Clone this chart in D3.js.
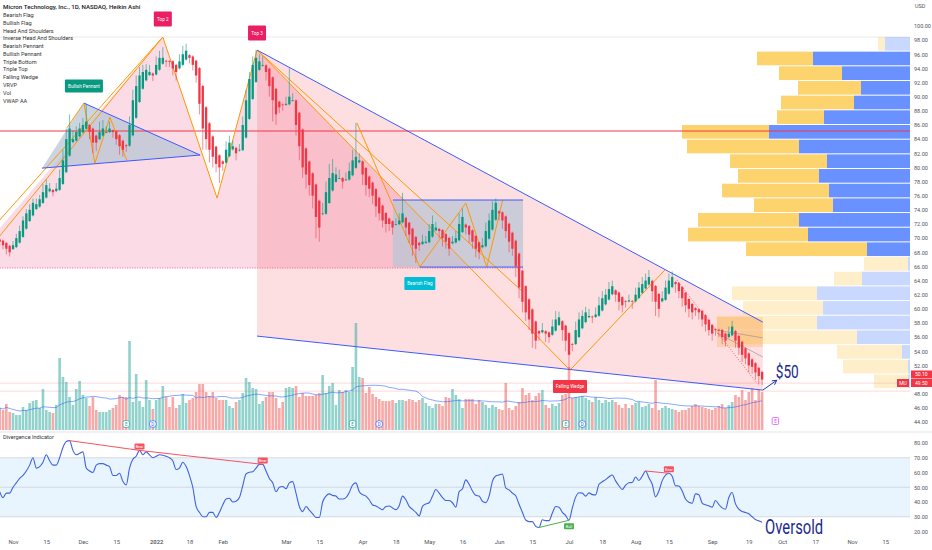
<!DOCTYPE html>
<html>
<head>
<meta charset="utf-8">
<script src="https://cdn.jsdelivr.net/npm/d3@7"></script>
<style>
body { margin: 0; background: #fff; }
svg { display: block; font-family: Roboto, "Noto Sans", sans-serif; }
</style>
</head>
<body>
<svg id="chart" width="932" height="550"></svg>
<script>
var width = 932;
var height = 550;
var plotRight = 910;

// trading calendar
var holidays = ["2021-11-25","2021-12-24","2022-01-17","2022-02-21","2022-04-15","2022-05-30","2022-06-20","2022-07-04","2022-09-05","2022-11-24"];
var firstBar = "2021-10-26";

// Heikin Ashi close, one per session from firstBar
var haClose = [
  69.5, 69, 68.5, 68, 69, 70, 71, 72.5, 73.5, 74,
  75, 74.8, 75.5, 76.5, 77.5, 77, 76.5, 77, 78.5, 81,
  84, 85.5, 84, 85, 85.5, 86, 86.5, 85, 83.5, 83.5,
  85, 85.5, 85, 85.5, 85, 84, 83, 82.5, 83, 86,
  89.5, 91.5, 93, 93.5, 93.8, 93.5, 93, 94.5, 95.5, 95.5,
  95, 95, 94, 93.5, 95, 96, 96.5, 95.5, 94.5, 93,
  89, 85.5, 84, 82.5, 81.5, 80.5, 80, 80.5, 82.5, 83.5,
  83, 82, 82.5, 86, 89.5, 92.5, 94.5, 95.5, 95, 94.5,
  93.5, 91.5, 89.5, 87.5, 88.5, 88.8, 89, 90, 89.5, 86,
  83, 80, 79, 77.5, 76, 73, 71.5, 73.5, 76.5, 78.5,
  79.2, 79, 78.5, 78, 78.3, 79.5, 81, 81.5, 81, 79,
  77.5, 77, 76, 74.5, 73.5, 72.5, 72, 72, 71.5, 72,
  72.5, 73.5, 71.5, 70.5, 69, 68.5, 69, 69.5, 69.5, 71,
  72, 71.5, 71, 70, 69.5, 68.5, 69.5, 70, 72, 73,
  71.5, 70.5, 69.5, 68.5, 68, 69, 71, 72.5, 74, 75,
  73.5, 72.5, 71, 69.5, 68.5, 66, 63, 61, 59.5, 58.5,
  56.5, 55.5, 56.5, 57, 56.5, 56, 57.5, 58.5, 58.8, 57,
  55.5, 53.5, 55, 57, 58.5, 59, 59.5, 59, 58.8, 59.2,
  60.5, 61.5, 62, 62.8, 63.2, 62, 61, 60.5, 61, 61.2,
  61, 62, 63, 63.5, 64, 64.5, 62.5, 61, 60, 61.5,
  63, 64, 64.5, 63.5, 62.5, 61.5, 60.5, 60, 59.5, 59.8,
  59.5, 58.5, 57.8, 57, 56.5, 57, 57, 56, 55.5, 56.5,
  57.5, 55.5, 54.5, 53.5, 53, 52, 51.8, 51, 50.5, 50
];
var firstOpen = 69.8;

// wick length beyond the body
var wick = [
  0.6,0.6,0.8,0.6,0.6,0.6,0.8,0.6,0.6,0.8,
  0.6,0.8,0.6,1.2,0.8,0.8,0.6,0.8,1.2,1.5,
  1.5,2.0,1.2,0.8,0.8,1.0,2.5,1.0,1.5,1.2,
  1.5,1.2,0.8,1.0,0.8,0.8,1.2,1.0,0.8,1.2,
  1.5,1.5,1.2,1.0,0.8,1.0,0.8,1.2,1.0,1.5,
  0.8,0.8,1.0,1.2,1.0,1.2,1.0,0.8,0.8,1.0,
  1.5,3.0,1.5,1.8,1.5,1.2,2.2,1.0,1.2,1.0,
  0.8,1.0,0.8,1.2,1.5,1.0,1.2,1.1,1.0,1.2,
  1.2,1.5,3.0,1.5,0.8,0.8,1.0,4.0,1.0,1.5,
  2.0,1.5,2.0,1.5,1.8,3.0,2.0,1.5,1.5,2.0,
  2.0,1.0,1.2,1.0,1.0,1.2,1.5,4.8,1.0,1.5,
  1.5,1.2,1.2,1.5,1.0,1.0,1.2,1.0,1.0,0.8,
  1.0,2.9,1.2,1.2,1.5,2.0,0.8,1.0,0.8,1.0,
  1.2,0.8,1.0,1.2,1.0,1.0,0.8,1.0,1.5,1.2,
  1.0,1.2,1.0,1.2,1.0,1.0,1.2,1.0,1.2,0.6,
  1.0,1.2,1.0,1.5,1.0,1.5,1.5,1.5,1.2,1.5,
  2.0,1.2,1.0,1.0,1.2,0.8,1.0,1.2,0.8,1.5,
  1.5,2.2,1.0,1.2,1.0,0.8,0.8,1.0,0.8,1.0,
  1.2,1.0,0.8,1.0,0.8,1.0,1.2,1.0,0.8,0.8,
  1.0,1.0,0.8,1.0,1.0,1.0,1.5,2.0,1.2,1.0,
  1.0,1.0,0.8,1.2,1.0,1.2,1.0,1.2,1.0,0.8,
  1.0,1.0,1.0,0.8,1.0,0.8,1.0,1.0,0.8,1.0,
  0.8,1.0,1.0,1.0,0.8,1.0,1.0,1.0,1.2,0.8
];

// volume, millions
var volume = [
  22, 20, 26, 18, 17, 15, 15, 23, 20, 27,
  29, 30, 22, 41, 20, 18, 17, 25, 72, 53,
  48, 33, 25, 41, 49, 35, 32, 24, 33, 20,
  18, 18, 18, 20, 22, 25, 35, 33, 33, 89,
  28, 56, 29, 23, 50, 30, 21, 30, 32, 44,
  33, 23, 33, 22, 25, 36, 27, 30, 32, 38,
  46, 46, 38, 34, 38, 32, 30, 30, 30, 24,
  22, 28, 30, 37, 52, 48, 42, 41, 26, 29,
  33, 38, 38, 32, 22, 28, 42, 43, 42, 44,
  33, 37, 34, 34, 34, 35, 37, 55, 37, 44,
  47, 25, 40, 38, 40, 38, 63, 107, 53, 52,
  37, 43, 36, 33, 31, 29, 29, 29, 30, 27,
  30, 30, 29, 31, 30, 28, 30, 32, 27, 24,
  22, 26, 26, 24, 33, 32, 41, 35, 31, 22,
  31, 31, 31, 26, 30, 28, 25, 22, 25, 23,
  21, 20, 47, 22, 20, 24, 28, 42, 35, 37,
  30, 34, 37, 40, 25, 22, 26, 24, 27, 35,
  36, 63, 32, 33, 33, 34, 32, 30, 28, 33,
  30, 27, 30, 28, 30, 28, 25, 22, 26, 22,
  25, 27, 28, 23, 24, 26, 22, 50, 20, 22,
  24, 22, 21, 20, 18, 20, 20, 22, 24, 26,
  24, 23, 22, 21, 20, 22, 24, 26, 22, 25,
  28, 35, 33, 40, 30, 38, 42, 30, 40, 38
];

// divergence indicator (RSI)
var rsi = [
  47, 43, 46, 46, 50, 53, 56, 58, 61, 65,
  70, 63, 64, 67, 72, 68, 65, 65, 70, 77,
  81, 81.6, 75, 72, 73, 74, 63, 61, 60, 65,
  66, 66, 65, 64, 58, 58, 59.5, 54, 51.5, 63,
  69, 71, 75, 72, 74, 72, 70, 71, 72, 71.7,
  71, 70, 68, 62, 63, 67, 64, 58, 50, 37,
  33, 30, 30, 33, 33, 29.5, 33, 38, 42, 42.5,
  40, 40.5, 43, 51, 59, 60.2, 60.5, 63, 65.5, 65.5,
  61, 56, 53, 47, 50, 50.5, 49, 53, 53.8, 46,
  37, 33.5, 37, 34.5, 32, 29.5, 29.5, 40, 44, 45.5,
  44.5, 44, 42, 42, 43, 46.5, 51.5, 53, 47, 45,
  44, 41.5, 38, 37.3, 36, 34.8, 37, 37.3, 36, 34.8,
  37.5, 44, 41.5, 37, 35, 33, 30.6, 37, 38.7, 39.5,
  44, 48.5, 46, 43, 41, 41, 39.5, 36.5, 47, 49,
  55, 52, 47.5, 44.5, 44, 40.5, 39.6, 44, 54, 57.6,
  58.3, 59, 49.5, 48.2, 46, 44.2, 38.5, 33, 27.8, 26.7,
  26.7, 23.5, 22.7, 28, 27.4, 27.4, 32.5, 37, 36.5, 33,
  30.8, 27.6, 36, 43.3, 46.3, 46, 44, 46.2, 45, 44.8,
  52, 53.7, 55.2, 57, 58.3, 54.3, 51, 48.5, 51.4, 53.1,
  53.2, 57, 54.6, 57.5, 61, 56.5, 52, 43.5, 47.5, 54.5,
  58.2, 59.5, 57.4, 51, 50.9, 47.4, 42, 39.8, 39.2, 45.5,
  44.9, 39.3, 38.1, 37.4, 36.5, 41, 38.3, 36, 35.1, 43,
  46.4, 38.7, 35.2, 33.6, 32.9, 32, 30, 28.1, 27.2, 26.3
];

// [from bar, to bar, kind]
var divergences = [[21, 42, "Bear"], [42, 79, "Bear"], [194, 201, "Bear"], [162, 171, "Bull"]];

var tickDates = ["2021-11-01","2021-11-15","2021-12-01","2021-12-15","2022-01-03","2022-01-18","2022-02-01","2022-03-01","2022-03-15","2022-04-01","2022-04-18","2022-05-02","2022-05-16","2022-06-01","2022-06-15","2022-07-01","2022-07-18","2022-08-01","2022-08-15","2022-09-01","2022-09-19","2022-10-03","2022-10-17","2022-11-01","2022-11-15"];
var tickLabels = ["Nov","15","Dec","15","2022","18","Feb","Mar","15","Apr","18","May","16","Jun","15","Jul","18","Aug","15","Sep","19","Oct","17","Nov","15"];

// visible range volume profile (rows from the top)
var vpTop = 98.45;
var vpStep = 2.075;
var vpUp =   [25, 97, 68, 49, 56, 86, 141, 111, 83, 91, 81, 77, 111, 102, 43, 2, 48, 93, 87, 93, 53, 8, 2, 2];
var vpDown = [7, 56, 63, 63, 73, 47, 87, 112, 97, 81, 107, 79, 101, 120, 121, 44, 28, 85, 80, 100, 117, 65, 65, 34];
var vpValueArea = [1, 14];

// pattern drawings, [bar, price]
var tripleTopFill = [[0, 65.77], [0, 71.4], [49, 98.44], [65.3, 75.67], [77.3, 96.6], [141.2, 65.77]];
var tripleTopLines = [[[0, 72.56], [49, 98.44], [65.3, 75.67], [77.3, 96.6]], [[0, 70.3], [49, 98.44]]];
var neckline = [[0, 65.77], [157.2, 65.77]];
var pennant = [[12.7, 79.9], [25.3, 89.1], [60.2, 81.75]];
var pennantZigzag = [[20.2, 85.6], [25.3, 89.1], [28.6, 80.6], [33.1, 87.1], [38.2, 81.0]];
var flagBox = [118.1, 157.2, 65.91, 75.39];
var flagZigzag = [[107.3, 86.28], [126.2, 65.91], [140.0, 74.96], [146.3, 65.91], [151.1, 75.39]];
var topLines = [[[77.3, 96.6], [157.2, 62.38]], [[77.3, 96.6], [171.3, 51.34], [199.8, 65.49]]];
var wedgeTop = [[77.3, 96.6], [229.2, 58.13]];
var wedgeBottom = [[77.3, 56.15], [229.2, 48.51]];
var targetArrow = [[229.2, 48.51], [233.4, 49.9]];
var channelBox = [215.4, 229.2, 54.6, 58.84];
var channelLines = [[[215.4, 57.0], [229.2, 55.9]], [[215.4, 56.6], [229.2, 53.2]]];
var trendDotted = [[203.4, 64.07], [227.4, 49.5]];
var resistance = 85.15;
var lastPrice = 49.5;
var lastClose = 50.1;

var patternTags = [
  { bar: 49, price: 98.44, dy: -18, w: 18, text: "Top 2", color: "#e91e63" },
  { bar: 77.3, price: 96.6, dy: -17, w: 18, text: "Top 3", color: "#e91e63" },
  { bar: 25.3, price: 89.1, dy: -17, w: 38, text: "Bullish Pennant", color: "#089981" },
  { bar: 126.2, price: 65.91, dy: 16.5, w: 31, text: "Bearish Flag", color: "#00bcd4" },
  { bar: 171.3, price: 51.34, dy: 16.5, w: 34, text: "Falling Wedge", color: "#f23645" }
];
var events = [[38, "E"], [46, "D"], [106, "E"], [114, "D"], [170, "E"], [175, "D"]];
var nextEarnings = 233;

var legendItems = ["Bearish Flag","Bullish Flag","Head And Shoulders","Inverse Head And Shoulders","Bearish Pennant","Bullish Pennant","Triple Bottom","Triple Top","Falling Wedge","VRVP","Vol","VWAP AA"];

var green = "#089981", red = "#f23645";

function tradingDays(start, end) {
    var days = [];
    var d = new Date(start + "T00:00:00Z");
    var e = new Date(end + "T00:00:00Z");
    while (d <= e) {
        var s = d.toISOString().slice(0, 10), wd = d.getUTCDay();
        if (wd !== 0 && wd !== 6 && holidays.indexOf(s) < 0) days.push(s);
        d.setUTCDate(d.getUTCDate() + 1);
    }
    return days;
}
var calendar = tradingDays(firstBar, "2022-11-30");
var barOf = (s) => calendar.indexOf(s);

var x = d3.scaleLinear().domain([barOf("2021-11-01"), barOf("2022-11-01")]).range([13, 852]);
var priceY = d3.scaleLinear().domain([44, 100]).range([422, 26]);
var volY = d3.scaleLinear().domain([0, 110]).range([430, 320]);
var rsiY = d3.scaleLinear().domain([20, 80]).range([531.5, 443]);
var vpX = d3.scaleLinear().domain([0, 228]).range([0, 228]);

// heikin ashi bars
var bars = [];
var prevO = firstOpen, prevC = haClose[0];
haClose.forEach((c, i) => {
    var o = i === 0 ? firstOpen : (prevO + prevC) / 2;
    var up = c >= o;
    bars.push({ i: i, o: o, c: c, up: up,
        h: Math.max(o, c) + (up ? wick[i] : 0.15),
        l: Math.min(o, c) - (up ? 0.15 : wick[i]),
        v: volume[i] });
    prevO = o; prevC = c;
});
var volMA = volume.map((v, i) => d3.mean(volume.slice(Math.max(0, i - 19), i + 1)));

var svg = d3.select("#chart");
svg.append("defs").append("clipPath").attr("id", "pclip")
    .append("rect").attr("x", 0).attr("y", 0).attr("width", plotRight).attr("height", 431);

var line = d3.line().x((d) => x(d[0])).y((d) => priceY(d[1]));
var area = (pts) => line(pts) + "Z";

var g = svg.append("g").attr("clip-path", "url(#pclip)");

// fills
g.append("path").attr("d", area(tripleTopFill)).attr("fill", "rgba(233,30,99,0.16)");
g.append("path").attr("d", area(wedgeTop.concat(wedgeBottom.slice().reverse()))).attr("fill", "rgba(242,54,69,0.16)");
g.append("path").attr("d", area(pennant)).attr("fill", "rgba(185,198,212,0.75)");
g.append("rect")
    .attr("x", x(flagBox[0])).attr("width", x(flagBox[1]) - x(flagBox[0]))
    .attr("y", priceY(flagBox[3])).attr("height", priceY(flagBox[2]) - priceY(flagBox[3]))
    .attr("fill", "rgba(185,198,212,0.75)");

// faint price lines
g.append("line").attr("x1", 0).attr("x2", plotRight).attr("y1", priceY(98.44)).attr("y2", priceY(98.44)).attr("stroke", "#e3e5ea").attr("stroke-width", 0.8);
[lastPrice, 48.37].forEach((p) => {
    g.append("line").attr("x1", 0).attr("x2", plotRight).attr("y1", priceY(p)).attr("y2", priceY(p))
        .attr("stroke", "rgba(242,54,69,0.25)").attr("stroke-width", 0.8);
});

// volume
g.append("g").selectAll("rect")
    .data(bars)
    .enter().append("rect")
    .attr("x", (d) => x(d.i) - 1.3)
    .attr("width", 2.6)
    .attr("y", (d) => volY(d.v))
    .attr("height", (d) => 430 - volY(d.v))
    .attr("fill", (d) => d.up ? "rgba(38,166,154,0.5)" : "rgba(239,83,80,0.5)");
g.append("path")
    .attr("d", d3.line().x((d, i) => x(i)).y((d) => volY(d))(volMA))
    .attr("fill", "none").attr("stroke", "#2962ff").attr("stroke-opacity", 0.7).attr("stroke-width", 0.8);

// volume profile
var vpRows = vpUp.map((u, r) => ({ r: r, up: u, down: vpDown[r], inside: r >= vpValueArea[0] && r <= vpValueArea[1] }));
var rowY = (r) => priceY(vpTop - r * vpStep);
var rowH = priceY(vpTop - vpStep) - priceY(vpTop) - 1;
var vp = g.append("g").selectAll("g").data(vpRows).enter().append("g");
vp.append("rect")
    .attr("x", (d) => plotRight - vpX(d.up))
    .attr("width", (d) => vpX(d.up))
    .attr("y", (d) => rowY(d.r)).attr("height", rowH)
    .attr("fill", (d) => d.inside ? "rgba(41,98,255,0.7)" : "rgba(41,98,255,0.25)");
vp.append("rect")
    .attr("x", (d) => plotRight - vpX(d.up) - vpX(d.down))
    .attr("width", (d) => vpX(d.down))
    .attr("y", (d) => rowY(d.r)).attr("height", rowH)
    .attr("fill", (d) => d.inside ? "rgba(251,192,45,0.7)" : "rgba(251,192,45,0.25)");

// channel box at the end
g.append("rect")
    .attr("x", x(channelBox[0])).attr("width", x(channelBox[1]) - x(channelBox[0]))
    .attr("y", priceY(channelBox[3])).attr("height", priceY(channelBox[2]) - priceY(channelBox[3]))
    .attr("fill", "rgba(255,152,0,0.2)");
channelLines.forEach((pts) => {
    g.append("path").attr("d", line(pts)).attr("fill", "none").attr("stroke", "#8d8d8d").attr("stroke-width", 0.6);
});

// horizontal resistance
g.append("line").attr("x1", 0).attr("x2", plotRight).attr("y1", priceY(resistance)).attr("y2", priceY(resistance))
    .attr("stroke", red).attr("stroke-width", 1);
g.append("path").attr("d", line(neckline)).attr("fill", "none").attr("stroke", "#f06292").attr("stroke-width", 1).attr("stroke-dasharray", "1,1.5");

// pattern lines
function stroke(pts, color, w) {
    g.append("path").attr("d", line(pts)).attr("fill", "none").attr("stroke", color).attr("stroke-width", w || 1);
}
tripleTopLines.forEach((pts) => stroke(pts, "#ff9800"));
topLines.forEach((pts) => stroke(pts, "#ff9800"));
stroke(pennantZigzag, "#ff9800");
stroke(flagZigzag, "#ff9800");
stroke([pennant[1], pennant[2]], "#3d5afe");
stroke([pennant[0], pennant[2]], "#3d5afe");
stroke([[flagBox[0], flagBox[3]], [flagBox[1], flagBox[3]]], "#3d5afe");
stroke([[126.2, flagBox[2]], [flagBox[1], flagBox[2]]], "#3d5afe");
stroke(wedgeTop, "#3d5afe");
stroke(wedgeBottom, "#3d5afe");
g.append("path").attr("d", line(trendDotted)).attr("fill", "none").attr("stroke", red).attr("stroke-width", 0.7).attr("stroke-dasharray", "1,1.5");

// candles
var candles = g.append("g").selectAll("g")
    .data(bars)
    .enter().append("g")
    .attr("fill", (d) => d.up ? green : red)
    .attr("stroke", (d) => d.up ? green : red);
candles.append("line")
    .attr("x1", (d) => x(d.i)).attr("x2", (d) => x(d.i))
    .attr("y1", (d) => priceY(d.h)).attr("y2", (d) => priceY(d.l))
    .attr("stroke-width", 0.7).attr("stroke-opacity", 0.8);
candles.append("rect")
    .attr("x", (d) => x(d.i) - 1.15).attr("width", 2.3)
    .attr("y", (d) => priceY(Math.max(d.o, d.c)))
    .attr("height", (d) => Math.max(0.8, Math.abs(priceY(d.o) - priceY(d.c))))
    .attr("stroke", "none");

// target arrow and note
var arrowEnd = targetArrow[1], arrowStart = targetArrow[0];
svg.append("path").attr("d", line(targetArrow)).attr("stroke", "#1e3a9e").attr("stroke-width", 1).attr("fill", "none");
var ax = x(arrowEnd[0]), ay = priceY(arrowEnd[1]);
var ang = Math.atan2(ay - priceY(arrowStart[1]), ax - x(arrowStart[0]));
svg.append("path")
    .attr("d", `M${ax - 5 * Math.cos(ang - 0.5)},${ay - 5 * Math.sin(ang - 0.5)}L${ax},${ay}L${ax - 5 * Math.cos(ang + 0.5)},${ay - 5 * Math.sin(ang + 0.5)}`)
    .attr("stroke", "#1e3a9e").attr("stroke-width", 1).attr("fill", "none");
svg.append("text").attr("x", ax - 1).attr("y", ay - 2).text("$50")
    .attr("font-size", 18).attr("fill", "#1a2a8c").attr("textLength", 23).attr("lengthAdjust", "spacingAndGlyphs");

// pattern tags
patternTags.forEach((t) => {
    var cx = x(t.bar), cy = priceY(t.price) + t.dy;
    var h = t.w > 20 ? 13 : 15;
    svg.append("rect").attr("x", cx - t.w / 2).attr("y", cy - h / 2).attr("width", t.w).attr("height", h)
        .attr("rx", 1).attr("fill", t.color);
    svg.append("text").attr("x", cx).attr("y", cy).attr("dy", "0.35em").attr("text-anchor", "middle")
        .attr("font-size", 4.6).attr("fill", "#fff").text(t.text);
});

// event markers on volume
events.forEach((ev) => {
    var ex = x(ev[0]);
    var col = ev[1] === "E" ? "#26a69a" : "#2962ff";
    if (ev[1] === "E") {
        svg.append("rect").attr("x", ex - 3.2).attr("y", 420.5).attr("width", 6.4).attr("height", 7).attr("rx", 2)
            .attr("fill", "#fff").attr("stroke", col).attr("stroke-width", 0.7);
    } else {
        svg.append("circle").attr("cx", ex).attr("cy", 424).attr("r", 3.5)
            .attr("fill", "#fff").attr("stroke", col).attr("stroke-width", 0.7);
    }
    svg.append("text").attr("x", ex).attr("y", 424).attr("dy", "0.35em").attr("text-anchor", "middle")
        .attr("font-size", 4.5).attr("fill", col).text(ev[1]);
});
svg.append("rect").attr("x", x(nextEarnings) - 3.2).attr("y", 417.5).attr("width", 6.4).attr("height", 7).attr("rx", 1)
    .attr("fill", "#fff").attr("stroke", "#e040fb").attr("stroke-width", 0.7);
svg.append("text").attr("x", x(nextEarnings)).attr("y", 421).attr("dy", "0.35em").attr("text-anchor", "middle")
    .attr("font-size", 4.5).attr("fill", "#e040fb").text("E");

// legend
svg.append("text").attr("x", 3).attr("y", 9).attr("font-size", 6.2).attr("fill", "#131722").attr("font-weight", 500)
    .text("Micron Technology, Inc., 1D, NASDAQ, Heikin Ashi");
svg.append("g").selectAll("text")
    .data(legendItems)
    .enter().append("text")
    .attr("x", 3)
    .attr("y", (d, i) => 17 + i * 7.78)
    .attr("font-size", 5.6)
    .attr("fill", "#333")
    .text((d) => d);

// price axis, the label under the last price is hidden
var priceAxis = svg.append("g").attr("transform", `translate(${plotRight + 1},0)`)
    .call(d3.axisRight(priceY).tickValues(d3.range(44, 101, 2).filter((v) => v !== 50)).tickSize(0).tickPadding(3).tickFormat(d3.format(".2f")));
priceAxis.select(".domain").remove();
priceAxis.selectAll("text").attr("font-size", 5.5).attr("fill", "#50535e").attr("font-family", "Roboto, sans-serif");
svg.append("text").attr("x", 915).attr("y", 8).attr("font-size", 5.5).attr("fill", "#50535e").text("USD");

// last price labels
[[lastClose, 374.5], [lastPrice, 383]].forEach((p) => {
    svg.append("rect").attr("x", 911).attr("y", p[1] - 4).attr("width", 21).attr("height", 8).attr("fill", red);
    svg.append("text").attr("x", 915).attr("y", p[1]).attr("dy", "0.35em").attr("font-size", 5).attr("fill", "#fff")
        .text(d3.format(".2f")(p[0]));
});
svg.append("rect").attr("x", 897).attr("y", 379).attr("width", 12).attr("height", 8).attr("fill", red);
svg.append("text").attr("x", 903).attr("y", 383).attr("dy", "0.35em").attr("text-anchor", "middle").attr("font-size", 5)
    .attr("fill", "#fff").text("MU");

// pane separator
svg.append("line").attr("x1", 0).attr("x2", width).attr("y1", 432).attr("y2", 432).attr("stroke", "#e0e3eb");

// divergence indicator pane
svg.append("rect").attr("x", 0).attr("width", plotRight).attr("y", rsiY(70)).attr("height", rsiY(30) - rsiY(70))
    .attr("fill", "rgba(33,150,243,0.1)");
[70, 50, 30].forEach((v) => {
    svg.append("line").attr("x1", 0).attr("x2", plotRight).attr("y1", rsiY(v)).attr("y2", rsiY(v))
        .attr("stroke", "#c8cbd3").attr("stroke-width", 0.7);
});
svg.append("path")
    .attr("d", d3.line().x((d, i) => x(i)).y((d) => rsiY(d)).curve(d3.curveMonotoneX)(rsi))
    .attr("fill", "none").attr("stroke", "#3f63e0").attr("stroke-width", 1.1);
divergences.forEach((dv) => {
    var bear = dv[2] === "Bear";
    var col = bear ? "#f7525f" : "#4caf50";
    svg.append("line")
        .attr("x1", x(dv[0])).attr("y1", rsiY(rsi[dv[0]]))
        .attr("x2", x(dv[1])).attr("y2", rsiY(rsi[dv[1]]))
        .attr("stroke", col).attr("stroke-width", 1);
    var ly = rsiY(rsi[dv[1]]) + (bear ? -4 : 6);
    svg.append("rect").attr("x", x(dv[1]) - 5).attr("y", ly - 3).attr("width", 10).attr("height", 6).attr("rx", 1).attr("fill", col);
    svg.append("text").attr("x", x(dv[1])).attr("y", ly).attr("dy", "0.35em").attr("text-anchor", "middle")
        .attr("font-size", 3.8).attr("fill", "#fff").text(dv[2]);
});
svg.append("text").attr("x", 3).attr("y", 439).attr("font-size", 5.6).attr("fill", "#333").text("Divergence Indicator");
svg.append("text").attr("x", x(rsi.length - 1) + 3).attr("y", 534).text("Oversold")
    .attr("font-size", 20).attr("fill", "#1a2a8c").attr("textLength", 58).attr("lengthAdjust", "spacingAndGlyphs");

var rsiAxis = svg.append("g").attr("transform", `translate(${plotRight + 1},0)`)
    .call(d3.axisRight(rsiY).tickValues(d3.range(20, 81, 10)).tickSize(0).tickPadding(3).tickFormat(d3.format(".2f")));
rsiAxis.select(".domain").remove();
rsiAxis.selectAll("text").attr("font-size", 5.5).attr("fill", "#50535e").attr("font-family", "Roboto, sans-serif");

// time axis
var timeAxis = svg.append("g").attr("transform", "translate(0,535)")
    .call(d3.axisBottom(x).tickValues(tickDates.map(barOf)).tickSize(0).tickPadding(5)
        .tickFormat((d, i) => tickLabels[i]));
timeAxis.select(".domain").remove();
timeAxis.selectAll("text").attr("font-size", 5.8).attr("fill", "#50535e").attr("font-family", "Roboto, sans-serif")
    .attr("font-weight", (d, i) => tickLabels[i] === "2022" ? 600 : 400);
</script>
</body>
</html>
